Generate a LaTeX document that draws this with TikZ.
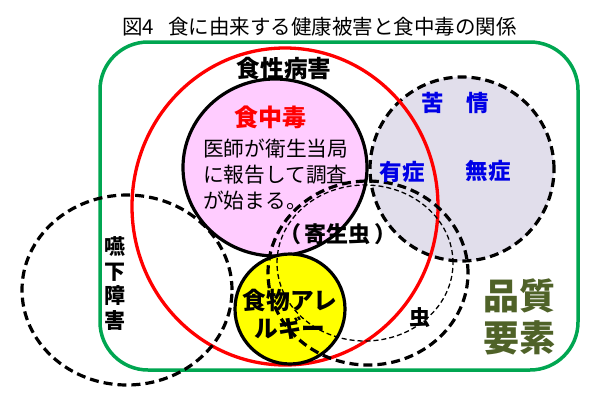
\documentclass[tikz,border=0pt]{standalone}
\usepackage{fontspec}
\setmainfont{Noto Sans CJK JP}
\usepackage{xcolor}
\definecolor{fsgreen}{RGB}{0,166,81}
\definecolor{fsred}{RGB}{255,0,0}
\definecolor{fspink}{RGB}{255,204,255}
\definecolor{fsgrey}{RGB}{225,222,235}
\definecolor{fsblue}{RGB}{0,0,230}
\definecolor{fsolive}{RGB}{79,98,40}
\definecolor{fsyellow}{RGB}{255,255,0}
\usetikzlibrary{positioning}

\begin{document}
\begin{tikzpicture}[
  x=1pt, y=-1pt,
  every node/.style={inner sep=0pt, align=center},
  titletext/.style={font=\fontsize{20.5}{24}\selectfont},
  bodytext/.style={font=\fontsize{20.7}{26}\selectfont, align=left},
  labeltext/.style 2 args={font=\bfseries\fontsize{#1}{#2}\selectfont},
  frame/.style={draw=fsgreen, line width=3.5pt, rounded corners=48pt},
  bigdash/.style={draw=black, line width=3.2pt, dash pattern=on 9pt off 5pt},
  smalldash/.style={draw=black, line width=1.3pt, dash pattern=on 5pt off 3pt},
  solidring/.style={draw=black, line width=3.2pt},
]
  \fill[white] (0,0) rectangle (600,402);
  \useasboundingbox (0,0) rectangle (600,402);

  % Title
  \node[titletext, anchor=west] (title) at (122,27)
    {図4\hspace{0.7em}食に由来する健康被害と食中毒の関係};

  % Green frame
  \draw[frame] (100,42) rectangle (578,370);

  % Complaints
  \draw[bigdash, fill=fsgrey] (462,169) circle[radius=92pt];

  % Food-borne disease
  \draw[draw=fsred, line width=3.3pt] (285,206.5) ellipse[x radius=153pt, y radius=158.5pt];

  % Food poisoning
  \draw[solidring, fill=fspink] (275,167.5) ellipse[x radius=92pt, y radius=88.5pt];

  % Allergy
  \draw[solidring, fill=fsyellow] (290,309) circle[radius=55pt];

  % Insects
  \draw[smalldash] (365,263) ellipse[x radius=88pt, y radius=78pt];
  \draw[bigdash] (368,273) ellipse[x radius=100pt, y radius=92pt];

  % Swallowing
  \draw[bigdash] (127,290) ellipse[x radius=105pt, y radius=95pt];

  % Labels
  \node[labeltext={23.6}{28}] (shokusei) at (284,68) {食性病害};
  \node[labeltext={24}{28}, text=fsred] (chudoku) at (270,117) {食中毒};
  \node[bodytext, anchor=west] (houkoku) at (203,175)
    {医師が衛生当局\\に報告して調査\\が始まる。};
  \node[labeltext={22.5}{26}, text=fsblue] (kujou) at (455,103) {苦　情};
  \node[labeltext={22.5}{26}, text=fsblue] (yushou) at (402,172) {有症};
  \node[labeltext={22.5}{26}, text=fsblue] (mushou) at (488,171) {無症};
  \node[labeltext={22}{26}] (kiseichu) at (338,234) {（\hspace{4pt}寄生虫\hspace{4pt}）};
  \node[labeltext={23.7}{28}] (allergy) at (290,314) {食物アレ\\ルギー};
  \node[labeltext={21}{24.5}] (mushi) at (420,318) {虫};
  \node[labeltext={21}{24.5}] (enge) at (115,283.5) {嚥\\下\\障\\害};
  \node[labeltext={36}{42}, text=fsolive] (hinshitsu) at (519,317) {品質\\要素};
\end{tikzpicture}
\end{document}
